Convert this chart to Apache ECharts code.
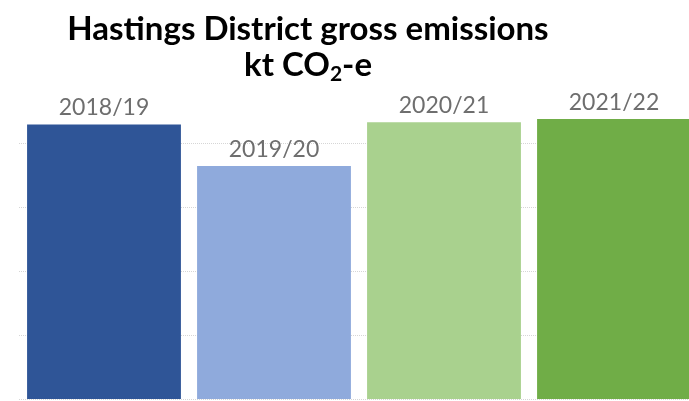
<!DOCTYPE html>
<html>
<head>
<meta charset="utf-8">
<script src="https://cdn.jsdelivr.net/npm/echarts@6/dist/echarts.min.js"></script>
<style>
  html, body { margin: 0; padding: 0; background: #ffffff; }
  #chart { width: 689px; height: 401px; }
</style>
</head>
<body>
<div id="chart"></div>
<script>
// Financial years shown as bar captions
const years = ['2018/19', '2019/20', '2020/21', '2021/22'];
// Gross emissions, kt CO2-e
const emissions = [858, 728, 865, 875];
// Fill colour for each year
const barColors = ['#2F5597', '#8FAADC', '#A9D18E', '#70AD47'];

const chart = echarts.init(document.getElementById('chart'), null, { renderer: 'canvas' });

chart.setOption({
  animation: false,
  backgroundColor: '#ffffff',
  title: {
    text: 'Hastings District gross emissions\n{u|kt CO}{sub|2}{u|-e}',
    left: 303,
    textAlign: 'center',
    top: 6,
    textStyle: {
      fontFamily: 'Lato',
      fontWeight: 'bold',
      fontSize: 33,
      color: '#000000',
      lineHeight: 36,
      rich: {
        u: { fontFamily: 'Lato', fontWeight: 'bold', fontSize: 33, color: '#000000', lineHeight: 36 },
        sub: { fontFamily: 'Lato', fontWeight: 'bold', fontSize: 21, color: '#000000', verticalAlign: 'bottom', padding: [0, 0, -2, 0] }
      }
    }
  },
  // the last bar runs off the right edge, so the plot is allowed past the canvas
  grid: { left: 19, width: 680, top: 111, bottom: 2, containLabel: false, outerBoundsMode: 'none' },
  xAxis: {
    type: 'category',
    data: years,
    show: false
  },
  yAxis: {
    type: 'value',
    min: 0,
    max: 900,
    interval: 200,
    axisLabel: { show: false },
    axisLine: { show: false },
    axisTick: { show: false },
    splitLine: {
      show: true,
      showMaxLine: false,
      lineStyle: { color: '#d6d6d6', type: 'dotted', width: 1 }
    }
  },
  series: [{
    type: 'bar',
    data: emissions.map((v, i) => ({ value: v, itemStyle: { color: barColors[i] } })),
    barCategoryGap: '9.5%',
    label: {
      show: true,
      position: 'top',
      distance: 5,
      formatter: p => years[p.dataIndex],
      fontFamily: 'Lato',
      fontSize: 23,
      color: '#6e6e6e'
    }
  }]
});
</script>
</body>
</html>
